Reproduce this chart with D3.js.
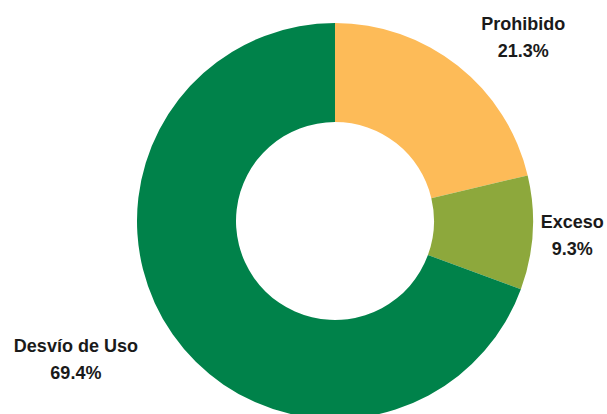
<!DOCTYPE html>
<html>
<head>
<meta charset="utf-8">
<script src="https://cdn.jsdelivr.net/npm/d3@7"></script>
<style>
    body { margin: 0; background: #fff; }
    text { font-family: "Liberation Sans", Arial, sans-serif; font-weight: bold; fill: #1a1a1a; }
</style>
</head>
<body>
<svg id="chart" width="607" height="414"></svg>
<script>
var categories = ['Prohibido', 'Exceso', 'Desvío de Uso'];
var values = [21.3, 9.3, 69.4];
var colors = ['#FDBB58', '#8DA83C', '#00824A'];

var width = 607, height = 414;
var cx = 335, cy = 221;
var outerRadius = 198, innerRadius = 99;

// where each label sits, relative to the slice's mid angle
var labelLayout = [
    { radius: 260, angleShift: 0.14 },
    { radius: 238, angleShift: 0.02 },
    { radius: 296, angleShift: 0.105 }
];

var svg = d3.select('#chart');
var g = svg.append('g').attr('transform', 'translate(' + cx + ',' + cy + ')');

var data = categories.map(function(c, i)
{
    return { name: c, value: values[i], color: colors[i], index: i };
});

var pie = d3.pie().sort(null).value(function(d) { return d.value; });
var arc = d3.arc().innerRadius(innerRadius).outerRadius(outerRadius);

var arcs = pie(data);

g.selectAll('path.slice')
    .data(arcs)
    .enter()
    .append('path')
    .classed('slice', true)
    .attr('d', arc)
    .attr('fill', function(d) { return d.data.color; });

var labels = g.selectAll('g.label')
    .data(arcs)
    .enter()
    .append('g')
    .classed('label', true)
    .attr('transform', function(d)
    {
        var lay = labelLayout[d.data.index];
        var a = (d.startAngle + d.endAngle) / 2 + lay.angleShift;
        var x = Math.sin(a) * lay.radius;
        var y = -Math.cos(a) * lay.radius;
        return 'translate(' + x + ',' + y + ')';
    });

labels.append('text')
    .attr('text-anchor', 'middle')
    .attr('y', -12)
    .attr('font-size', '18px')
    .text(function(d) { return d.data.name; });

labels.append('text')
    .attr('text-anchor', 'middle')
    .attr('y', 15)
    .attr('font-size', '18px')
    .text(function(d) { return d.data.value.toFixed(1) + '%'; });
</script>
</body>
</html>
